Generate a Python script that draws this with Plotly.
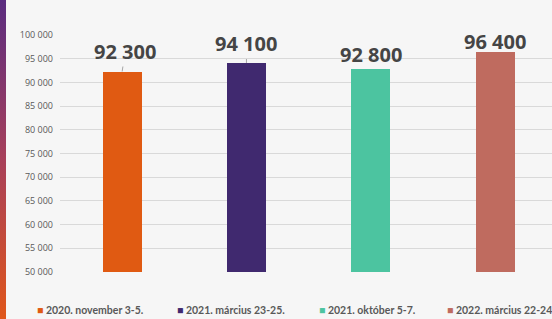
import base64
import plotly.graph_objects as go

categories = ["2020. november 3-5.", "2021. március 23-25.", "2021. október 5-7.", "2022. március 22-24."]
values = [92300, 94100, 92800, 96400]
colors = ["#e05a12", "#40296f", "#4cc4a0", "#bf6b5f"]
label_texts = ["92 300", "94 100", "92 800", "96 400"]
label_offsets_x = [3, 0, 0, 0]
label_offsets_y = [-20, -19, -15, -11]
tick_vals = [50000, 55000, 60000, 65000, 70000, 75000, 80000, 85000, 90000, 95000, 100000]

W, H = 552, 319
ML, MR, MT, MB = 60, 0, 35, 47
plot_w = W - ML - MR
x_idx = list(range(len(categories)))

fig = go.Figure()
fig.add_trace(go.Bar(
    x=x_idx, y=values, marker=dict(color=colors, line=dict(width=0)),
    width=0.314, showlegend=False, hoverinfo="skip",
))

# value labels with leader lines
for i, (v, t) in enumerate(zip(values, label_texts)):
    fig.add_annotation(
        x=i, y=v, xref="x", yref="y", text=t, showarrow=True,
        arrowhead=0, arrowwidth=1, arrowcolor="#a6a6a6",
        ax=label_offsets_x[i], ay=label_offsets_y[i],
        font=dict(family="Open Sans", size=20, color="#454545", weight=700),
    )

# legend as annotations
legend_x_px = [35, 175, 317, 445]
for px, name, c in zip(legend_x_px, categories, colors):
    fig.add_annotation(
        x=(px - ML) / plot_w, y=-0.16, xref="paper", yref="paper",
        xanchor="left", yanchor="middle", showarrow=False,
        text=f"<span style='color:{c}'>■</span> {name}",
        font=dict(family="Lato", size=10.5, color="#595959", weight=700),
    )

# left gradient stripe as svg image
svg = ('<svg xmlns="http://www.w3.org/2000/svg" width="6" height="319" preserveAspectRatio="none">'
       '<defs><linearGradient id="g" x1="0" y1="0" x2="0" y2="1">'
       '<stop offset="0" stop-color="#5a2c80"/><stop offset="0.5" stop-color="#a8405a"/>'
       '<stop offset="1" stop-color="#e0561a"/></linearGradient></defs>'
       '<rect width="6" height="319" fill="url(#g)"/></svg>')
src = "data:image/svg+xml;base64," + base64.b64encode(svg.encode()).decode()
fig.add_layout_image(dict(
    source=src, xref="paper", yref="paper",
    x=(0 - ML) / plot_w, y=1 + MT / (H - MT - MB),
    sizex=6 / plot_w, sizey=H / (H - MT - MB),
    xanchor="left", yanchor="top", sizing="stretch", layer="above",
))

fig.update_layout(
    width=W, height=H,
    margin=dict(l=ML, r=MR, t=MT, b=MB),
    paper_bgcolor="#f6f6f6", plot_bgcolor="#f6f6f6",
    separators=", ",
    showlegend=False,
    font=dict(family="Open Sans", color="#595959"),
    xaxis=dict(range=[-0.5, -0.5 + plot_w / 124.3], showticklabels=False,
               showgrid=False, zeroline=False, showline=False, ticks=""),
    yaxis=dict(range=[50000, 100000], tickvals=tick_vals, tickformat=",d",
               gridcolor="#d9d9d9", gridwidth=1, zeroline=False, showline=False,
               tickfont=dict(family="Open Sans", size=9, color="#595959"),
               ticklabelstandoff=6),
    bargap=0,
)

fig.write_html("out.html", config={"displayModeBar": False},
               post_script="document.body.style.margin='0';document.body.style.padding='0';document.body.style.overflow='hidden';")
